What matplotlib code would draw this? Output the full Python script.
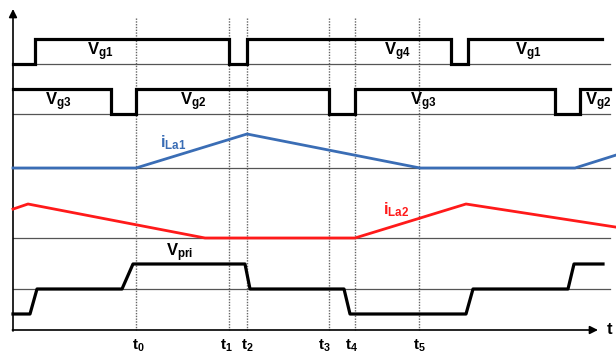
import numpy as np
import matplotlib.pyplot as plt

plt.rcParams['mathtext.fontset'] = 'custom'
plt.rcParams['mathtext.rm'] = 'Liberation Sans'
plt.rcParams['mathtext.bf'] = 'Liberation Sans:bold'
plt.rcParams['font.family'] = 'Liberation Sans'

# time instants (horizontal position of the dotted markers)
t_marks = [136, 229, 247, 329, 355, 419]
t_labels = ['0', '1', '2', '3', '4', '5']

# gate signals (0 = low, 1 = high)
vg1_t = [13, 35, 35, 229, 229, 247, 247, 451, 451, 468, 468, 602]
vg1_v = [0, 0, 1, 1, 0, 0, 1, 1, 0, 0, 1, 1]
vg23_t = [13, 111, 111, 136, 136, 329, 329, 355, 355, 555, 555, 580, 580, 610]
vg23_v = [1, 1, 0, 0, 1, 1, 0, 0, 1, 1, 0, 0, 1, 1]

# inductor currents (normalised to peak)
ila1_t = [13, 136, 247, 420, 575, 616]
ila1_v = [0, 0, 1.0, 0, 0, 0.38]
ila2_t = [13, 28, 205, 355, 466, 616]
ila2_v = [0.85, 1.0, 0, 0, 1.0, 0.32]

# primary voltage (-1, 0, +1)
vpri_t = [13, 30, 37, 122, 133, 245, 250, 344, 350, 466, 473, 568, 574, 603]
vpri_v = [-1, -1, 0, 0, 1, 1, 0, 0, -1, -1, 0, 0, 1, 1]

fig = plt.figure(figsize=(6.16, 3.55), dpi=100)
ax = fig.add_axes([0, 0, 1, 1])
ax.set_xlim(0, 616)
ax.set_ylim(355, 0)
ax.axis('off')

x0 = 13
x_end = 610

def row(base, amp, vals):
    return [base - amp * v for v in vals]

# baselines
for base in [64, 114, 168, 238, 289]:
    ax.plot([x0, x_end], [base, base], color='#555555', lw=0.9, zorder=1)

# dotted time markers
for tm in t_marks:
    ax.plot([tm, tm], [18, 330], color='#666666', lw=1.0, ls=(0, (1, 1)), zorder=1)

# axes with arrows
ax.annotate('', xy=(x0, 9), xytext=(x0, 331),
            arrowprops=dict(arrowstyle='-|>', color='black', lw=1.2,
                            mutation_scale=12, shrinkA=0, shrinkB=0))
ax.annotate('', xy=(598, 330), xytext=(x0 - 0.6, 330),
            arrowprops=dict(arrowstyle='-|>', color='black', lw=1.2,
                            mutation_scale=12, shrinkA=0, shrinkB=0))

# waveforms
ax.plot(vg1_t, row(64, 25, vg1_v), color='black', lw=2.3, zorder=3, solid_joinstyle='miter')
ax.plot(vg23_t, row(114, 25, vg23_v), color='black', lw=2.3, zorder=3, solid_joinstyle='miter')
ax.plot(ila1_t, row(168, 34, ila1_v), color='#3a6db5', lw=2.0, zorder=3)
ax.plot(ila2_t, row(238, 34, ila2_v), color='#ff1a1a', lw=2.0, zorder=3)
ax.plot(vpri_t, row(289, 25, vpri_v), color='black', lw=2.3, zorder=3)

# labels
fs = 12
lab = dict(fontsize=fs, ha='center', va='center', color='black')
ax.text(100, 52, r'$\mathbf{V_{g1}}$', **lab)
ax.text(397, 52, r'$\mathbf{V_{g4}}$', **lab)
ax.text(528, 52, r'$\mathbf{V_{g1}}$', **lab)
ax.text(58, 102, r'$\mathbf{V_{g3}}$', **lab)
ax.text(193, 102, r'$\mathbf{V_{g2}}$', **lab)
ax.text(423, 102, r'$\mathbf{V_{g3}}$', **lab)
ax.text(585, 102, r'$\mathbf{V_{g2}}$', fontsize=fs, ha='left', va='center')
ax.text(173, 143, r'$\mathbf{i_{La1}}$', fontsize=fs, ha='center', va='center', color='#3a6db5')
ax.text(396, 210, r'$\mathbf{i_{La2}}$', fontsize=fs, ha='center', va='center', color='#ff1a1a')
ax.text(180, 253, r'$\mathbf{V_{pri}}$', **lab)

label_shift = [2, -3, 0, -5, -3, 0]
for tm, name, dx in zip(t_marks, t_labels, label_shift):
    ax.text(tm + dx, 345.5, r'$\mathbf{t_{%s}}$' % name, fontsize=11, ha='center', va='center')
ax.text(606, 329, r'$\mathbf{t}$', fontsize=12, ha='left', va='center')

fig.savefig('out.png', dpi=100)
